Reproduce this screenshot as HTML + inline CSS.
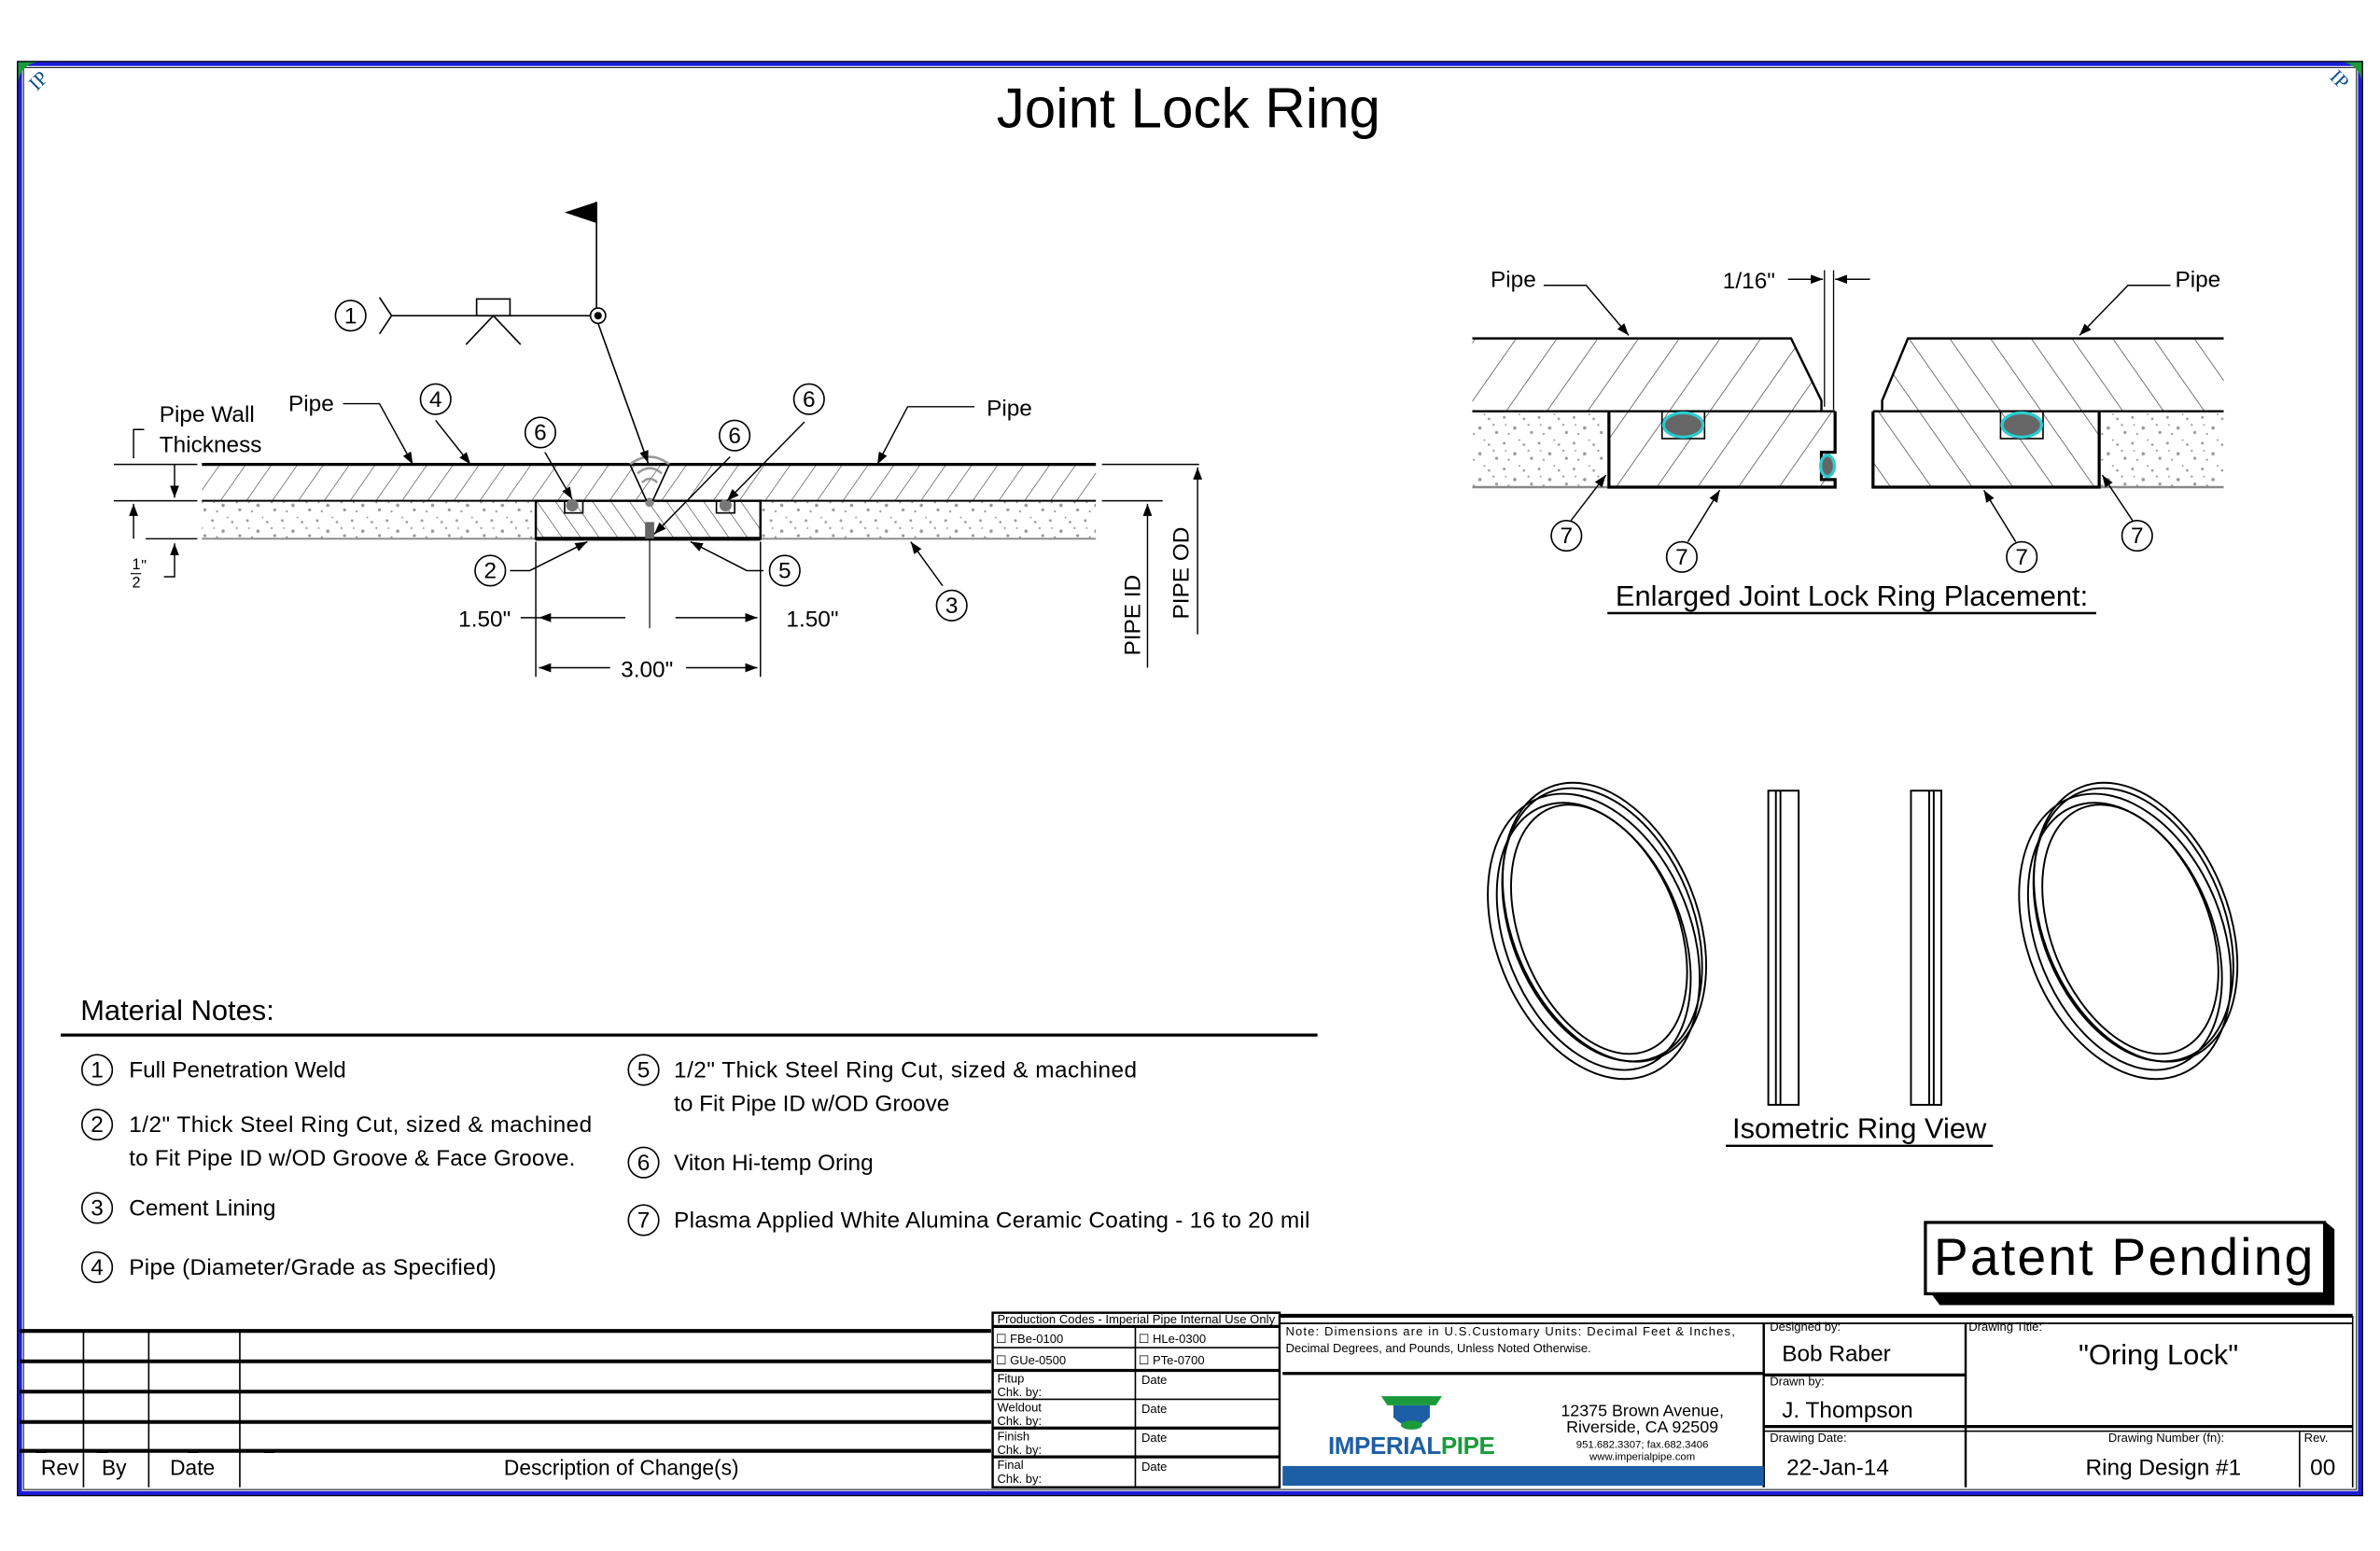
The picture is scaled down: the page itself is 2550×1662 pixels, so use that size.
<!DOCTYPE html>
<html><head><meta charset="utf-8"><style>
html,body{margin:0;padding:0;background:#fff}
svg{display:block}
text{font-family:"Liberation Sans Narrow","Liberation Sans",sans-serif;fill:#000}
</style></head><body>
<svg width="2550" height="1662" viewBox="0 0 1568 1022" preserveAspectRatio="none" xmlns="http://www.w3.org/2000/svg">
<defs>
<pattern id="h1" width="14" height="14" patternUnits="userSpaceOnUse" patternTransform="rotate(35)"><line x1="0" y1="0" x2="0" y2="14" stroke="#444" stroke-width="0.8"/></pattern>
<pattern id="h2" width="10" height="10" patternUnits="userSpaceOnUse" patternTransform="rotate(-35)"><line x1="0" y1="0" x2="0" y2="10" stroke="#444" stroke-width="0.8"/></pattern>
<pattern id="hb" width="22" height="22" patternUnits="userSpaceOnUse" patternTransform="rotate(35)"><line x1="0" y1="0" x2="0" y2="22" stroke="#444" stroke-width="0.9"/></pattern>
<pattern id="hc" width="22" height="22" patternUnits="userSpaceOnUse" patternTransform="rotate(-35)"><line x1="0" y1="0" x2="0" y2="22" stroke="#444" stroke-width="0.9"/></pattern>
<pattern id="cem" width="23" height="17" patternUnits="userSpaceOnUse">
<g fill="#999"><circle cx="2" cy="3" r="0.9"/><circle cx="9" cy="10" r="1.1"/><circle cx="15" cy="4" r="0.8"/><circle cx="20" cy="13" r="1"/><circle cx="5" cy="14" r="0.7"/><circle cx="12" cy="1" r="0.6"/><circle cx="18" cy="8" r="0.7"/><circle cx="3" cy="8" r="0.6"/></g>
</pattern>
<marker id="ar" markerWidth="8" markerHeight="6" refX="8" refY="3" orient="auto" markerUnits="userSpaceOnUse"><path d="M0,0 L8,3 L0,6z" fill="#000"/></marker>
</defs>

<!-- frame -->
<rect x="13" y="42" width="1542" height="942" fill="none" stroke="#1c1cd8" stroke-width="3"/>
<rect x="11.5" y="40.5" width="1545" height="945" fill="none" stroke="#000" stroke-width="0.8"/>
<rect x="15.5" y="44.5" width="1537" height="937" fill="none" stroke="#000" stroke-width="0.6"/>
<path d="M12,41 h14 a14,14 0 0 0 -14,14z" fill="#1a9a3a"/>
<text x="20" y="62" font-size="13" transform="rotate(-45 20 56)" style="fill:#0c4f8a;font-family:'Liberation Serif'">IP</text>
<path d="M1556,41 h-14 a14,14 0 0 1 14,14z" fill="#1a9a3a"/>
<text x="1536" y="57" font-size="13" transform="rotate(45 1542 52)" style="fill:#0c4f8a;font-family:'Liberation Serif'">IP</text>

<text x="783" y="84" font-size="37" text-anchor="middle" style="font-family:'Liberation Sans'">Joint Lock Ring</text>

<!-- LEFT SECTION -->
<rect x="133" y="306" width="589" height="24" fill="url(#h1)"/>
<rect x="133" y="330" width="589" height="25" fill="url(#cem)"/>
<rect x="353" y="330" width="148" height="25" fill="#fff"/>
<rect x="353" y="330" width="75" height="25" fill="url(#h2)"/>
<rect x="428" y="330" width="73" height="25" fill="url(#h2)"/>
<line x1="133" y1="306" x2="722" y2="306" stroke="#000" stroke-width="2"/>
<line x1="133" y1="330" x2="722" y2="330" stroke="#000" stroke-width="1.2"/>
<line x1="133" y1="355" x2="722" y2="355" stroke="#888" stroke-width="1.2"/>
<rect x="353" y="330" width="148" height="25" fill="none" stroke="#000" stroke-width="1.5"/>
<line x1="353" y1="355" x2="501" y2="355" stroke="#000" stroke-width="2.5"/>
<rect x="372" y="330" width="12" height="8" fill="none" stroke="#000"/><circle cx="377" cy="333" r="4" fill="#777"/>
<rect x="472" y="330" width="12" height="8" fill="none" stroke="#000"/><circle cx="478" cy="333" r="4" fill="#777"/>
<circle cx="428" cy="331" r="3" fill="#888"/>
<rect x="425" y="344" width="6" height="11" fill="#666"/>
<path d="M415,306 Q428,296 441,306 M420,312 Q428,305 436,312 M423,318 Q428,313 433,318" fill="none" stroke="#999" stroke-width="1.5"/>
<path d="M415,306 L426,330 M441,306 L430,330" stroke="#000" stroke-width="1"/>
<line x1="428" y1="355" x2="428" y2="414" stroke="#000" stroke-width="0.7"/>
<!-- weld symbol -->
<line x1="393" y1="133" x2="393" y2="208" stroke="#000" stroke-width="1"/>
<path d="M372,140 L393,133 L393,147z" fill="#000"/>
<line x1="258" y1="208" x2="393" y2="208" stroke="#000" stroke-width="1"/>
<circle cx="394" cy="208" r="5" fill="#fff" stroke="#000"/><circle cx="394" cy="208" r="2.5" fill="#000"/>
<path d="M250,196 L258,208 L250,220" fill="none" stroke="#000"/>
<rect x="314" y="197" width="22" height="11" fill="none" stroke="#000"/>
<path d="M307,227 L325,208 L343,227" fill="none" stroke="#000"/>
<line x1="394" y1="213" x2="427" y2="305" stroke="#000" marker-end="url(#ar)"/>
<!-- leaders -->
<g stroke="#000" stroke-width="0.9" fill="none">
<path d="M226,266 L250,266 L272,306" marker-end="url(#ar)"/>
<path d="M287,277 L310,306" marker-end="url(#ar)"/>
<path d="M359,298 L377,329" marker-end="url(#ar)"/>
<path d="M481,301 L431,352" marker-end="url(#ar)"/>
<path d="M530,278 L479,330" marker-end="url(#ar)"/>
<path d="M642,268 L598,268 L578,306" marker-end="url(#ar)"/>
<path d="M336,376 L349,376 L387,357" marker-end="url(#ar)"/>
<path d="M503,376 L492,376 L455,357" marker-end="url(#ar)"/>
<path d="M621,386 L600,357" marker-end="url(#ar)"/>
<!-- dims -->
<line x1="353" y1="357" x2="353" y2="446"/><line x1="501" y1="357" x2="501" y2="446"/>
<path d="M343,407 L355,407"/>
<path d="M412,407 L355,407" marker-end="url(#ar)"/>
<path d="M445,407 L499,407" marker-end="url(#ar)"/>
<path d="M402,440 L355,440" marker-end="url(#ar)"/><path d="M452,440 L499,440" marker-end="url(#ar)"/>
<line x1="75" y1="306" x2="130" y2="306"/><line x1="75" y1="330" x2="130" y2="330"/><line x1="96" y1="355" x2="130" y2="355"/>
<path d="M95,283 L88,283 L88,302"/><path d="M115,306 L115,328" marker-end="url(#ar)"/>
<path d="M88,355 L88,332" marker-end="url(#ar)"/>
<path d="M108,380 L115,380 L115,358" marker-end="url(#ar)"/>
<line x1="726" y1="306" x2="790" y2="306"/><line x1="726" y1="330" x2="766" y2="330"/>
<path d="M789,418 L789,308" marker-end="url(#ar)"/>
<path d="M756,440 L756,332" marker-end="url(#ar)"/>
</g>
<g font-size="15">
<text x="105" y="278">Pipe Wall</text><text x="105" y="298">Thickness</text>
<text x="190" y="271">Pipe</text><text x="650" y="274">Pipe</text>
<text x="302" y="413">1.50"</text><text x="518" y="413">1.50"</text><text x="409" y="446">3.00"</text>
<text x="87" y="375" font-size="10">1</text><line x1="86" y1="378" x2="93" y2="378" stroke="#000" stroke-width="0.7"/><text x="87" y="387" font-size="10">2</text><text x="93" y="376" font-size="10">"</text>
<text transform="translate(751,432) rotate(-90)" font-size="15">PIPE ID</text>
<text transform="translate(783,408) rotate(-90)" font-size="15">PIPE OD</text>
</g>
<g fill="#fff" stroke="#000" stroke-width="1">
<circle cx="231" cy="208" r="10"/><circle cx="287" cy="263" r="10"/><circle cx="356" cy="285" r="10"/>
<circle cx="484" cy="287" r="10"/><circle cx="533" cy="263" r="10"/><circle cx="323" cy="376" r="10"/>
<circle cx="517" cy="376" r="10"/><circle cx="627" cy="399" r="10"/>
</g>
<g font-size="15" text-anchor="middle">
<text x="231" y="213">1</text><text x="287" y="268">4</text><text x="356" y="290">6</text><text x="484" y="292">6</text>
<text x="533" y="268">6</text><text x="323" y="381">2</text><text x="517" y="381">5</text><text x="627" y="404">3</text>
</g>

<!-- RIGHT ENLARGED -->
<path d="M970,223 L1180,223 L1200,264 L1200,271 L970,271z" fill="url(#hb)"/>
<path d="M1257,223 L1465,223 L1465,271 L1240,271 L1240,264z" fill="url(#hc)"/>
<rect x="970" y="271" width="90" height="50" fill="url(#cem)"/>
<rect x="1383" y="271" width="82" height="50" fill="url(#cem)"/>
<rect x="1060" y="271" width="149" height="50" fill="url(#hb)"/>
<rect x="1234" y="271" width="149" height="50" fill="url(#hc)"/>
<g stroke="#000" fill="none">
<path d="M970,223 L1180,223 L1200,264 L1200,271" stroke-width="1.5"/>
<path d="M1465,223 L1257,223 L1240,264 L1240,271" stroke-width="1.5"/>
<line x1="970" y1="271" x2="1209" y2="271" stroke-width="1.5"/><line x1="1234" y1="271" x2="1465" y2="271" stroke-width="1.5"/>
<line x1="970" y1="321" x2="1060" y2="321" stroke="#888" stroke-width="1.5"/><line x1="1383" y1="321" x2="1465" y2="321" stroke="#888" stroke-width="1.5"/>
<path d="M1060,271 L1060,321 L1209,321 L1209,316 L1200,316 L1200,298 L1209,298 L1209,271" stroke-width="2"/>
<path d="M1234,271 L1234,321 L1383,321 L1383,271" stroke-width="2"/>
<rect x="1095" y="271" width="28" height="18" stroke-width="1"/>
<rect x="1318" y="271" width="28" height="18" stroke-width="1"/>
<line x1="1202" y1="178" x2="1202" y2="268" stroke-width="0.8"/><line x1="1208" y1="178" x2="1208" y2="270" stroke-width="0.8"/>
<path d="M1178,184 L1201,184" marker-end="url(#ar)" stroke-width="0.9"/><path d="M1232,184 L1209,184" marker-end="url(#ar)" stroke-width="0.9"/>
<path d="M1017,188 L1045,188 L1073,221" marker-end="url(#ar)" stroke-width="0.9"/>
<path d="M1430,188 L1402,188 L1370,221" marker-end="url(#ar)" stroke-width="0.9"/>
<path d="M1035,343 L1058,313" marker-end="url(#ar)" stroke-width="0.9"/>
<path d="M1112,357 L1133,323" marker-end="url(#ar)" stroke-width="0.9"/>
<path d="M1328,357 L1307,323" marker-end="url(#ar)" stroke-width="0.9"/>
<path d="M1405,343 L1385,313" marker-end="url(#ar)" stroke-width="0.9"/>
</g>
<ellipse cx="1109" cy="280" rx="13" ry="8" fill="#666" stroke="#2ccbd0" stroke-width="2"/>
<ellipse cx="1332" cy="280" rx="13" ry="8" fill="#666" stroke="#2ccbd0" stroke-width="2"/>
<ellipse cx="1204" cy="307" rx="4.5" ry="7" fill="#666" stroke="#2ccbd0" stroke-width="2"/>
<g fill="#fff" stroke="#000"><circle cx="1032" cy="353" r="10"/><circle cx="1108" cy="367" r="10"/><circle cx="1332" cy="367" r="10"/><circle cx="1408" cy="353" r="10"/></g>
<g font-size="15" text-anchor="middle"><text x="1032" y="358">7</text><text x="1108" y="372">7</text><text x="1332" y="372">7</text><text x="1408" y="358">7</text></g>
<g font-size="15"><text x="982" y="189">Pipe</text><text x="1433" y="189">Pipe</text><text x="1135" y="190">1/16"</text></g>
<text x="1220" y="399" font-size="19" text-anchor="middle">Enlarged Joint Lock Ring Placement:</text>
<line x1="1059" y1="404" x2="1381" y2="404" stroke="#000" stroke-width="1.5"/>

<!-- ISOMETRIC -->
<g fill="none" stroke="#000" stroke-width="1.2">
<g transform="rotate(-22 1050 617)">
<ellipse cx="1050" cy="617" rx="64" ry="98"/><ellipse cx="1050" cy="617" rx="58" ry="92"/><ellipse cx="1055" cy="614" rx="52" ry="86"/>
<ellipse cx="1058" cy="612" rx="60" ry="94"/><ellipse cx="1060" cy="611" rx="61" ry="96"/>
</g>
<g transform="rotate(-22 1400 617)">
<ellipse cx="1400" cy="617" rx="64" ry="98"/><ellipse cx="1400" cy="617" rx="58" ry="92"/><ellipse cx="1405" cy="614" rx="52" ry="86"/>
<ellipse cx="1408" cy="612" rx="60" ry="94"/><ellipse cx="1410" cy="611" rx="61" ry="96"/>
</g>
<rect x="1165" y="521" width="20" height="207"/><line x1="1170" y1="521" x2="1170" y2="728"/><line x1="1173" y1="521" x2="1173" y2="728"/>
<rect x="1259" y="521" width="20" height="207"/><line x1="1274" y1="521" x2="1274" y2="728"/><line x1="1271" y1="521" x2="1271" y2="728"/>
</g>
<text x="1225" y="750" font-size="19" text-anchor="middle">Isometric Ring View</text>
<line x1="1137" y1="755" x2="1313" y2="755" stroke="#000" stroke-width="1.5"/>

<!-- MATERIAL NOTES -->
<text x="53" y="672" font-size="19">Material Notes:</text>
<line x1="40" y1="682" x2="868" y2="682" stroke="#000" stroke-width="2"/>
<g fill="#fff" stroke="#000"><circle cx="64" cy="705" r="10"/><circle cx="64" cy="741" r="10"/><circle cx="64" cy="796" r="10"/><circle cx="64" cy="835" r="10"/>
<circle cx="424" cy="705" r="10"/><circle cx="424" cy="766" r="10"/><circle cx="424" cy="804" r="10"/></g>
<g font-size="15" text-anchor="middle"><text x="64" y="710">1</text><text x="64" y="746">2</text><text x="64" y="801">3</text><text x="64" y="840">4</text>
<text x="424" y="710">5</text><text x="424" y="771">6</text><text x="424" y="809">7</text></g>
<g font-size="15">
<text x="85" y="710">Full Penetration Weld</text>
<text x="85" y="746" textLength="305">1/2"  Thick Steel Ring Cut, sized &amp; machined</text>
<text x="85" y="768" textLength="294">to Fit Pipe ID w/OD Groove &amp; Face Groove.</text>
<text x="85" y="801">Cement Lining</text>
<text x="85" y="840" textLength="242">Pipe (Diameter/Grade as Specified)</text>
<text x="444" y="710" textLength="305">1/2"  Thick Steel Ring Cut, sized &amp; machined</text>
<text x="444" y="732">to Fit Pipe ID w/OD Groove</text>
<text x="444" y="771">Viton Hi-temp Oring</text>
<text x="444" y="809" textLength="419">Plasma Applied White Alumina Ceramic Coating - 16 to 20 mil</text>
</g>

<!-- PATENT PENDING -->
<path d="M1272,852 L1278,860 L1538,860 L1538,810 L1532,805 L1532,852z" fill="#000"/>
<rect x="1268.5" y="805.5" width="263" height="47" fill="#fff" stroke="#000" stroke-width="2"/>
<text x="1399" y="840" font-size="34" text-anchor="middle" textLength="250" style="font-family:'Liberation Sans'">Patent Pending</text>

<!-- TITLE BLOCK -->
<g stroke="#000" fill="none">
<g stroke-width="2.5"><line x1="13" y1="877" x2="653" y2="877"/><line x1="13" y1="897" x2="653" y2="897"/><line x1="13" y1="917" x2="653" y2="917"/><line x1="13" y1="937" x2="653" y2="937"/><line x1="13" y1="956" x2="653" y2="956"/></g>
<g stroke-width="1"><line x1="55" y1="877" x2="55" y2="980"/><line x1="98" y1="877" x2="98" y2="980"/><line x1="158" y1="877" x2="158" y2="980"/></g>
<rect x="654" y="865" width="189" height="115" stroke-width="1.5"/>
<line x1="654" y1="874" x2="843" y2="874" stroke-width="2"/>
<line x1="748" y1="874" x2="748" y2="980"/>
<line x1="654" y1="888" x2="843" y2="888"/><line x1="654" y1="903" x2="843" y2="903" stroke-width="2"/>
<line x1="654" y1="922" x2="843" y2="922"/><line x1="654" y1="941" x2="843" y2="941" stroke-width="2"/><line x1="654" y1="960" x2="843" y2="960" stroke-width="2"/>
<line x1="843" y1="867" x2="1550" y2="867" stroke-width="2.5"/><line x1="843" y1="872" x2="1550" y2="872" stroke-width="1.2"/>
<line x1="1162" y1="872" x2="1162" y2="980" stroke-width="1.5"/><line x1="1295" y1="872" x2="1295" y2="980" stroke-width="1.5"/>
<line x1="845" y1="905" x2="1162" y2="905" stroke-width="2"/>
<line x1="1162" y1="906" x2="1295" y2="906" stroke-width="2"/>
<line x1="1162" y1="940" x2="1550" y2="940" stroke-width="2"/><line x1="1162" y1="943" x2="1550" y2="943" stroke-width="1"/>
<line x1="1515" y1="943" x2="1515" y2="980"/>
<line x1="1550" y1="867" x2="1550" y2="980"/>
</g>
<rect x="845" y="966" width="317" height="13" fill="#1d5fa6"/>
<g font-size="14"><text x="27" y="972">Rev</text><text x="67" y="972">By</text><text x="112" y="972">Date</text><text x="332" y="972">Description of Change(s)</text></g>
<g font-size="12"><text x="24" y="955">_</text><text x="64" y="955">_</text><text x="124" y="955">_</text><text x="174" y="955">_</text></g>
<g font-size="8">
<text x="657" y="872" textLength="183">Production Codes - Imperial Pipe Internal Use Only</text>
<text x="656" y="885">☐ FBe-0100</text><text x="750" y="885">☐ HLe-0300</text>
<text x="656" y="899">☐ GUe-0500</text><text x="750" y="899">☐ PTe-0700</text>
<text x="657" y="911">Fitup</text><text x="657" y="920">Chk. by:</text><text x="752" y="912">Date</text>
<text x="657" y="930">Weldout</text><text x="657" y="939">Chk. by:</text><text x="752" y="931">Date</text>
<text x="657" y="949">Finish</text><text x="657" y="958">Chk. by:</text><text x="752" y="950">Date</text>
<text x="657" y="968">Final</text><text x="657" y="977">Chk. by:</text><text x="752" y="969">Date</text>
<text x="847" y="880" textLength="296">Note:  Dimensions are in U.S.Customary Units: Decimal Feet &amp; Inches,</text>
<text x="847" y="891">Decimal Degrees, and Pounds, Unless Noted Otherwise.</text>
<text x="1166" y="877">Designed by:</text><text x="1166" y="913">Drawn by:</text><text x="1166" y="950">Drawing Date:</text>
<text x="1297" y="877">Drawing Title:</text><text x="1389" y="950">Drawing Number (fn):</text><text x="1518" y="950">Rev.</text>
</g>
<g font-size="11" text-anchor="middle"><text x="1082" y="933">12375 Brown Avenue,</text><text x="1082" y="944">Riverside, CA 92509</text>
<text x="1082" y="954" font-size="7">951.682.3307;  fax.682.3406</text><text x="1082" y="962" font-size="7">www.imperialpipe.com</text></g>
<path d="M910,920 L950,920 L946,926 L914,926z" fill="#1a9a3a"/>
<path d="M918,926 L918,934 Q930,946 942,934 L942,926z" fill="#1d5fa6"/>
<ellipse cx="930" cy="939" rx="7" ry="3" fill="#1a9a3a"/>
<text x="930" y="958" font-size="16" text-anchor="middle" textLength="110" style="fill:#1d5fa6;font-family:'Liberation Sans Narrow','Liberation Sans';font-weight:bold">IMPERIAL<tspan style="fill:#1a9a3a">PIPE</tspan></text>
<g font-size="15"><text x="1174" y="897">Bob Raber</text><text x="1174" y="934">J. Thompson</text><text x="1177" y="972">22-Jan-14</text>
<text x="1374" y="972">Ring Design #1</text><text x="1522" y="972">00</text></g>
<text x="1422" y="899" font-size="19" text-anchor="middle">"Oring Lock"</text>
</svg>
</body></html>
